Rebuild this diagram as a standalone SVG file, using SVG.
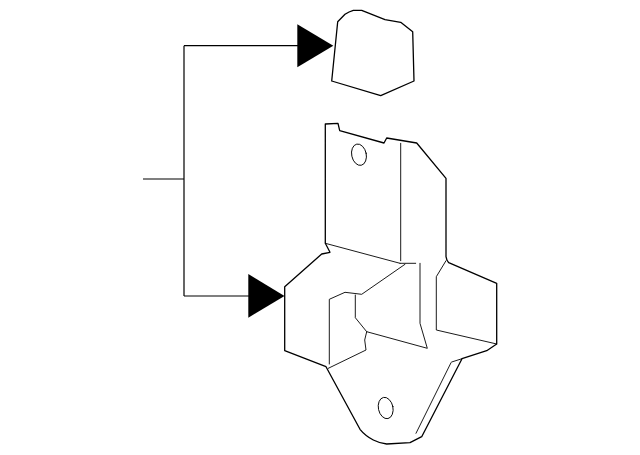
<svg xmlns="http://www.w3.org/2000/svg" width="640" height="455" viewBox="0 0 640 455">
<style>
.o{fill:none;stroke:#000;stroke-width:1.3;stroke-linejoin:round;stroke-linecap:round}
.t{fill:none;stroke:#000;stroke-width:.9;stroke-linejoin:round;stroke-linecap:round}
.c{fill:none;stroke:#000;stroke-width:1.2}
.a{fill:#000;stroke:none}
</style>
<rect width="640" height="455" fill="#fff"/>
<g id="connectors">
<path class="c" d="M143 179H184M184 45.700V296M184 45.700H298M184 296H249"/>
<polygon class="a" points="297.300,24.300 333.300,45.700 297.300,67.300"/>
<polygon class="a" points="248.300,274 284.500,296 248.300,317.700"/>
</g>
<g id="part-top">
<path class="o" d="M331.700 81L337.700 21.700L345 14.300Q349 11.500 353.300 10.300L361.700 10.300L385 19.700L400.700 22.300L412.700 31.700L414 81L380.700 95.700Z"/>
</g>
<g id="part-bracket">
<path class="o" d="M325.300 124L338 123.300L339.700 130.700L384 143L386.700 138L416.700 143L446 178.300L446 256.700Q446.500 260.500 448.700 262.700L496.700 283.300L496.700 344L486.700 350.700L462 358.700L421.700 436.700L410 442.700L386.700 444Q379 443 373.300 440Q365 435.500 360 429.300L326 366.700L284.700 350.700L284.700 286.700L321.700 254L330 252.300L325.300 243.300Z"/>
<path class="t" d="M325.300 243.300L400 263.300"/>
<path class="t" d="M400.700 143.300V260.700M400 263.300L415.700 263.300"/>
<path class="t" d="M405 264.300L361.700 294.300L345 292.300L329.300 299.300V364"/>
<path class="t" d="M355.300 295V317.700L366.700 331.700L427.300 348.300L420 323.300V263.300"/>
<path class="t" d="M366.700 331.700L364.700 340L366 350L328.300 368.300"/>
<path class="t" d="M446 260.700L436.300 276.700V330L496.700 344"/>
<path class="t" d="M416 433.300L451 362.700M451.700 362L462 358.700"/>
<ellipse class="t" cx="359" cy="154.700" rx="7.300" ry="10.800" transform="rotate(-12 359 154.700)"/>
<ellipse class="t" cx="385.700" cy="408" rx="7.300" ry="10.800" transform="rotate(-12 385.700 408)"/>
</g>
</svg>
